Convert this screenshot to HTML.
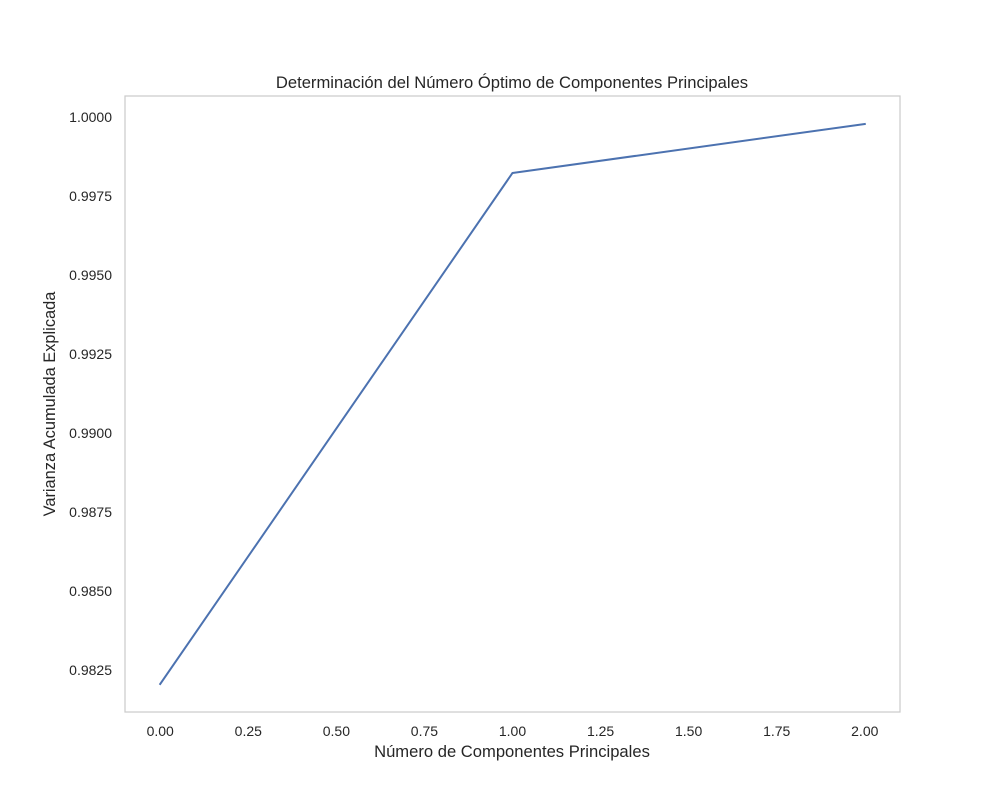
<!DOCTYPE html>
<html><head><meta charset="utf-8">
<style>
html,body{margin:0;padding:0;background:#fff;}
svg{display:block;font-family:"Liberation Sans","DejaVu Sans",sans-serif;}
</style></head>
<body>
<svg id="chart" width="1000" height="800" viewBox="0 0 1000 800">
<rect x="0" y="0" width="1000" height="800" fill="#fff"/>
<text x="512" y="88" text-anchor="middle" font-size="16.6" fill="#262626">Determinación del Número Óptimo de Componentes Principales</text>
<text x="512" y="757" text-anchor="middle" font-size="16.6" fill="#262626">Número de Componentes Principales</text>
<text transform="translate(55,404) rotate(-90)" text-anchor="middle" font-size="16.4" fill="#262626">Varianza Acumulada Explicada</text>
<g id="xticks"></g>
<g id="yticks"></g>
<g id="series"></g>
<rect x="125" y="96" width="775" height="616" fill="none" stroke="#cccccc" stroke-width="1.25"/>
</svg>
<script>
const xValues = [0, 1, 2];
const yValues = [0.98206, 0.99823, 0.99978];
const xTickLabels = ["0.00","0.25","0.50","0.75","1.00","1.25","1.50","1.75","2.00"];
const yTickLabels = ["0.9825","0.9850","0.9875","0.9900","0.9925","0.9950","0.9975","1.0000"];

const L=125,R=900,T=96,B=712;
const xmin0=Math.min(...xValues), xmax0=Math.max(...xValues);
const ymin0=Math.min(...yValues), ymax0=Math.max(...yValues);
const xm=(xmax0-xmin0)*0.05, ym=(ymax0-ymin0)*0.05;
const xlo=xmin0-xm, xhi=xmax0+xm, ylo=ymin0-ym, yhi=ymax0+ym;
const sx=v=>L+(v-xlo)/(xhi-xlo)*(R-L);
const sy=v=>B-(v-ylo)/(yhi-ylo)*(B-T);
const NS="http://www.w3.org/2000/svg";

const xg=document.getElementById('xticks');
xTickLabels.forEach(t=>{
  const v=parseFloat(t);
  const el=document.createElementNS(NS,'text');
  el.setAttribute('x',sx(v)); el.setAttribute('y',736);
  el.setAttribute('text-anchor','middle'); el.setAttribute('font-size','14'); el.setAttribute('fill','#262626');
  
  
  el.textContent=t; xg.appendChild(el);
});
const yg=document.getElementById('yticks');
yTickLabels.forEach(t=>{
  const v=parseFloat(t);
  const el=document.createElementNS(NS,'text');
  el.setAttribute('x',112); el.setAttribute('y',sy(v)+5);
  el.setAttribute('text-anchor','end'); el.setAttribute('font-size','14'); el.setAttribute('fill','#262626');
  
  
  el.textContent=t; yg.appendChild(el);
});
const line=document.createElementNS(NS,'polyline');
line.setAttribute('points',xValues.map((x,i)=>sx(x)+','+sy(yValues[i])).join(' '));
line.setAttribute('fill','none'); line.setAttribute('stroke','#4c72b0'); line.setAttribute('stroke-width','2');
line.setAttribute('stroke-linejoin','round'); line.setAttribute('stroke-linecap','square');


document.getElementById('series').appendChild(line);
</script>
</body></html>
